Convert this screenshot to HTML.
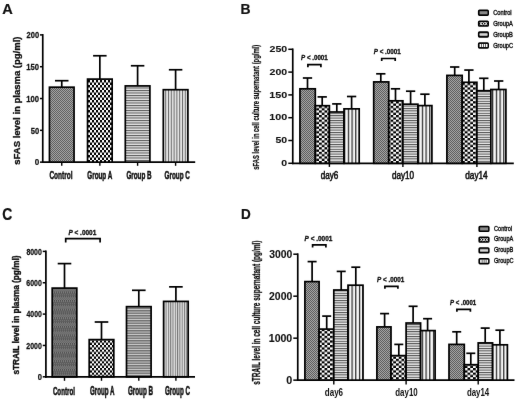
<!DOCTYPE html><html><head><meta charset="utf-8"><style>html,body{margin:0;padding:0;background:#fff;overflow:hidden;}svg{display:block;}</style></head><body>
<svg width="520" height="401" viewBox="0 0 520 401" font-family="'Liberation Sans', sans-serif">
<defs>
<pattern id="aG" width="2" height="2" patternUnits="userSpaceOnUse"><rect width="2" height="2" fill="#a8a8a8"/><rect width="1" height="1" fill="#5c5c5c"/><rect x="1" y="1" width="1" height="1" fill="#5c5c5c"/></pattern>
<pattern id="aC" width="4" height="5.0" patternUnits="userSpaceOnUse"><rect width="4" height="5.0" fill="#fff"/><rect width="2" height="2.5" fill="#000"/><rect x="2" y="2.5" width="2" height="2.5" fill="#000"/></pattern>
<pattern id="aH" width="4" height="2.5" patternUnits="userSpaceOnUse"><rect width="4" height="2.5" fill="#e2e2e2"/><rect width="4" height="1.0" fill="#555"/></pattern>
<pattern id="aV" width="2.8" height="4" patternUnits="userSpaceOnUse"><rect width="2.8" height="4" fill="#e4e4e4"/><rect width="1.0" height="4" fill="#6a6a6a"/></pattern>
<pattern id="bG" width="2" height="2" patternUnits="userSpaceOnUse"><rect width="2" height="2" fill="#a8a8a8"/><rect width="1" height="1" fill="#5a5a5a"/><rect x="1" y="1" width="1" height="1" fill="#5a5a5a"/></pattern>
<pattern id="bC" width="5.5" height="4.6" patternUnits="userSpaceOnUse"><rect width="5.5" height="4.6" fill="#fff"/><rect width="2.75" height="2.3" fill="#000"/><rect x="2.75" y="2.3" width="2.75" height="2.3" fill="#000"/></pattern>
<pattern id="bH" width="4" height="2.4" patternUnits="userSpaceOnUse"><rect width="4" height="2.4" fill="#ececec"/><rect width="4" height="1.0" fill="#4a4a4a"/></pattern>
<pattern id="bV" width="3.7" height="4" patternUnits="userSpaceOnUse"><rect width="3.7" height="4" fill="#f6f6f6"/><rect width="1.2" height="4" fill="#222"/></pattern>
<pattern id="cG" width="2" height="8.6" patternUnits="userSpaceOnUse"><rect width="2" height="8.6" fill="#4e4e4e"/><rect y="0" width="2" height="4.3" fill="#5c5c5c"/><rect x="0" y="4.3" width="1" height="1" fill="#929292"/><rect x="1" y="5.3" width="1" height="1" fill="#929292"/><rect x="0" y="6.3" width="1" height="1" fill="#929292"/><rect x="1" y="7.3" width="1" height="1" fill="#929292"/><rect x="1" y="0" width="1" height="1" fill="#7a7a7a"/><rect x="0" y="2" width="1" height="1" fill="#7a7a7a"/></pattern>
<pattern id="cC" width="4" height="4.6" patternUnits="userSpaceOnUse"><rect width="4" height="4.6" fill="#fff"/><rect width="2" height="2.3" fill="#000"/><rect x="2" y="2.3" width="2" height="2.3" fill="#000"/></pattern>
<pattern id="cH" width="4" height="2.5" patternUnits="userSpaceOnUse"><rect width="4" height="2.5" fill="#d0d0d0"/><rect width="4" height="1.5" fill="#707070"/></pattern>
<pattern id="cV" width="2.3" height="4" patternUnits="userSpaceOnUse"><rect width="2.3" height="4" fill="#e0e0e0"/><rect width="1.0" height="4" fill="#777"/></pattern>
<filter id="soft" x="0" y="0" width="520" height="401" filterUnits="userSpaceOnUse" color-interpolation-filters="sRGB"><feConvolveMatrix order="3" kernelMatrix="0.005 0.035 0.005 0.035 0.84 0.035 0.005 0.035 0.005" divisor="1" edgeMode="duplicate" preserveAlpha="true"/></filter>
</defs>
<g filter="url(#soft)"><rect width="520" height="401" fill="#fff"/>
<text transform="translate(2.13 13.55) scale(0.9943 1)" font-size="14.71" fill="#111" stroke="#111" stroke-width="0.20"><tspan font-weight="bold">A</tspan></text>
<text transform="translate(240.39 13.55) scale(0.9473 1)" font-size="14.71" fill="#111" stroke="#111" stroke-width="0.21"><tspan font-weight="bold">B</tspan></text>
<text transform="translate(2.14 219.60) scale(0.8922 1)" font-size="15.57" fill="#111" stroke="#111" stroke-width="0.22"><tspan font-weight="bold">C</tspan></text>
<text transform="translate(241.12 218.90) scale(0.9130 1)" font-size="14.78" fill="#111" stroke="#111" stroke-width="0.22"><tspan font-weight="bold">D</tspan></text>
<line x1="42.75" y1="34.05" x2="42.75" y2="163.00" stroke="#000" stroke-width="1.7" stroke-linecap="butt"/>
<line x1="41.90" y1="162.15" x2="195.20" y2="162.15" stroke="#000" stroke-width="1.7" stroke-linecap="butt"/>
<line x1="39.95" y1="162.15" x2="42.75" y2="162.15" stroke="#000" stroke-width="1.5" stroke-linecap="butt"/>
<text transform="translate(34.63 165.45) scale(0.8283 1)" font-size="9.79" fill="#111" stroke="#111" stroke-width="0.24"><tspan font-weight="bold">0</tspan></text>
<line x1="39.95" y1="130.34" x2="42.75" y2="130.34" stroke="#000" stroke-width="1.5" stroke-linecap="butt"/>
<text transform="translate(30.67 133.64) scale(0.7762 1)" font-size="9.79" fill="#111" stroke="#111" stroke-width="0.26"><tspan font-weight="bold">50</tspan></text>
<line x1="39.95" y1="98.53" x2="42.75" y2="98.53" stroke="#000" stroke-width="1.5" stroke-linecap="butt"/>
<text transform="translate(26.35 101.83) scale(0.7828 1)" font-size="9.79" fill="#111" stroke="#111" stroke-width="0.26"><tspan font-weight="bold">100</tspan></text>
<line x1="39.95" y1="66.71" x2="42.75" y2="66.71" stroke="#000" stroke-width="1.5" stroke-linecap="butt"/>
<text transform="translate(26.35 70.01) scale(0.7828 1)" font-size="9.79" fill="#111" stroke="#111" stroke-width="0.26"><tspan font-weight="bold">150</tspan></text>
<line x1="39.95" y1="34.90" x2="42.75" y2="34.90" stroke="#000" stroke-width="1.5" stroke-linecap="butt"/>
<text transform="translate(26.59 38.20) scale(0.7680 1)" font-size="9.79" fill="#111" stroke="#111" stroke-width="0.26"><tspan font-weight="bold">200</tspan></text>
<line x1="61.75" y1="87.20" x2="61.75" y2="80.70" stroke="#000" stroke-width="1.7" stroke-linecap="butt"/>
<line x1="55.00" y1="80.70" x2="68.50" y2="80.70" stroke="#000" stroke-width="1.7" stroke-linecap="butt"/>
<rect x="49.45" y="87.20" width="24.60" height="74.95" fill="url(#aG)" stroke="#000" stroke-width="1.7"/>
<line x1="61.75" y1="162.15" x2="61.75" y2="165.80" stroke="#000" stroke-width="1.4" stroke-linecap="butt"/>
<line x1="99.85" y1="79.10" x2="99.85" y2="55.75" stroke="#000" stroke-width="1.7" stroke-linecap="butt"/>
<line x1="93.10" y1="55.75" x2="106.60" y2="55.75" stroke="#000" stroke-width="1.7" stroke-linecap="butt"/>
<rect x="87.55" y="79.10" width="24.60" height="83.05" fill="url(#aC)" stroke="#000" stroke-width="1.7"/>
<line x1="99.85" y1="162.15" x2="99.85" y2="165.80" stroke="#000" stroke-width="1.4" stroke-linecap="butt"/>
<line x1="137.60" y1="85.90" x2="137.60" y2="65.75" stroke="#000" stroke-width="1.7" stroke-linecap="butt"/>
<line x1="130.85" y1="65.75" x2="144.35" y2="65.75" stroke="#000" stroke-width="1.7" stroke-linecap="butt"/>
<rect x="125.30" y="85.90" width="24.60" height="76.25" fill="url(#aH)" stroke="#000" stroke-width="1.7"/>
<line x1="137.60" y1="162.15" x2="137.60" y2="165.80" stroke="#000" stroke-width="1.4" stroke-linecap="butt"/>
<line x1="175.60" y1="89.70" x2="175.60" y2="69.75" stroke="#000" stroke-width="1.7" stroke-linecap="butt"/>
<line x1="168.85" y1="69.75" x2="182.35" y2="69.75" stroke="#000" stroke-width="1.7" stroke-linecap="butt"/>
<rect x="163.30" y="89.70" width="24.60" height="72.45" fill="url(#aV)" stroke="#000" stroke-width="1.7"/>
<line x1="175.60" y1="162.15" x2="175.60" y2="165.80" stroke="#000" stroke-width="1.4" stroke-linecap="butt"/>
<text transform="translate(49.39 178.70) scale(0.6119 1)" font-size="10.69" fill="#111" stroke="#111" stroke-width="0.49"><tspan font-weight="bold">Control</tspan></text>
<text transform="translate(87.30 178.70) scale(0.5705 1)" font-size="11.07" fill="#111" stroke="#111" stroke-width="0.53"><tspan font-weight="bold">Group A</tspan></text>
<text transform="translate(126.40 178.70) scale(0.5706 1)" font-size="11.07" fill="#111" stroke="#111" stroke-width="0.53"><tspan font-weight="bold">Group B</tspan></text>
<text transform="translate(164.49 178.70) scale(0.5769 1)" font-size="11.07" fill="#111" stroke="#111" stroke-width="0.52"><tspan font-weight="bold">Group C</tspan></text>
<text transform="translate(20.00 164.76) rotate(-90) scale(1.0912 1)" font-size="8.72" fill="#111" stroke="#111" stroke-width="0.32"><tspan font-weight="bold">sFAS level in plasma (pg/ml)</tspan></text>
<line x1="292.75" y1="48.45" x2="292.75" y2="164.15" stroke="#000" stroke-width="1.7" stroke-linecap="butt"/>
<line x1="291.90" y1="163.30" x2="513.80" y2="163.30" stroke="#000" stroke-width="1.7" stroke-linecap="butt"/>
<line x1="288.30" y1="163.30" x2="292.75" y2="163.30" stroke="#000" stroke-width="1.5" stroke-linecap="butt"/>
<text transform="translate(281.33 165.90) scale(1.2596 1)" font-size="8.36" fill="#111" stroke="#111" stroke-width="0.08"><tspan font-weight="bold">0</tspan></text>
<line x1="288.30" y1="140.50" x2="292.75" y2="140.50" stroke="#000" stroke-width="1.5" stroke-linecap="butt"/>
<text transform="translate(275.54 143.10) scale(1.2541 1)" font-size="8.36" fill="#111" stroke="#111" stroke-width="0.08"><tspan font-weight="bold">50</tspan></text>
<line x1="288.30" y1="117.70" x2="292.75" y2="117.70" stroke="#000" stroke-width="1.5" stroke-linecap="butt"/>
<text transform="translate(269.25 120.30) scale(1.2886 1)" font-size="8.36" fill="#111" stroke="#111" stroke-width="0.08"><tspan font-weight="bold">100</tspan></text>
<line x1="288.30" y1="94.90" x2="292.75" y2="94.90" stroke="#000" stroke-width="1.5" stroke-linecap="butt"/>
<text transform="translate(269.25 97.50) scale(1.2886 1)" font-size="8.36" fill="#111" stroke="#111" stroke-width="0.08"><tspan font-weight="bold">150</tspan></text>
<line x1="288.30" y1="72.10" x2="292.75" y2="72.10" stroke="#000" stroke-width="1.5" stroke-linecap="butt"/>
<text transform="translate(269.58 74.70) scale(1.2643 1)" font-size="8.36" fill="#111" stroke="#111" stroke-width="0.08"><tspan font-weight="bold">200</tspan></text>
<line x1="288.30" y1="49.30" x2="292.75" y2="49.30" stroke="#000" stroke-width="1.5" stroke-linecap="butt"/>
<text transform="translate(269.58 51.90) scale(1.2643 1)" font-size="8.36" fill="#111" stroke="#111" stroke-width="0.08"><tspan font-weight="bold">250</tspan></text>
<line x1="307.50" y1="88.80" x2="307.50" y2="78.00" stroke="#000" stroke-width="1.7" stroke-linecap="butt"/>
<line x1="302.85" y1="78.00" x2="312.15" y2="78.00" stroke="#000" stroke-width="1.7" stroke-linecap="butt"/>
<rect x="299.95" y="88.80" width="15.35" height="74.50" fill="url(#bG)" stroke="#000" stroke-width="1.7"/>
<line x1="322.20" y1="105.70" x2="322.20" y2="96.90" stroke="#000" stroke-width="1.7" stroke-linecap="butt"/>
<line x1="317.55" y1="96.90" x2="326.85" y2="96.90" stroke="#000" stroke-width="1.7" stroke-linecap="butt"/>
<rect x="315.30" y="105.70" width="14.10" height="57.60" fill="url(#bC)" stroke="#000" stroke-width="1.7"/>
<line x1="336.80" y1="112.00" x2="336.80" y2="103.90" stroke="#000" stroke-width="1.7" stroke-linecap="butt"/>
<line x1="332.15" y1="103.90" x2="341.45" y2="103.90" stroke="#000" stroke-width="1.7" stroke-linecap="butt"/>
<rect x="329.40" y="112.00" width="14.60" height="51.30" fill="url(#bH)" stroke="#000" stroke-width="1.7"/>
<line x1="351.60" y1="108.85" x2="351.60" y2="96.50" stroke="#000" stroke-width="1.7" stroke-linecap="butt"/>
<line x1="346.95" y1="96.50" x2="356.25" y2="96.50" stroke="#000" stroke-width="1.7" stroke-linecap="butt"/>
<rect x="344.00" y="108.85" width="15.20" height="54.45" fill="url(#bV)" stroke="#000" stroke-width="1.7"/>
<line x1="329.40" y1="163.30" x2="329.40" y2="166.90" stroke="#000" stroke-width="1.4" stroke-linecap="butt"/>
<line x1="380.80" y1="81.90" x2="380.80" y2="73.80" stroke="#000" stroke-width="1.7" stroke-linecap="butt"/>
<line x1="376.15" y1="73.80" x2="385.45" y2="73.80" stroke="#000" stroke-width="1.7" stroke-linecap="butt"/>
<rect x="373.70" y="81.90" width="15.05" height="81.40" fill="url(#bG)" stroke="#000" stroke-width="1.7"/>
<line x1="395.50" y1="100.80" x2="395.50" y2="88.80" stroke="#000" stroke-width="1.7" stroke-linecap="butt"/>
<line x1="390.85" y1="88.80" x2="400.15" y2="88.80" stroke="#000" stroke-width="1.7" stroke-linecap="butt"/>
<rect x="388.75" y="100.80" width="14.15" height="62.50" fill="url(#bC)" stroke="#000" stroke-width="1.7"/>
<line x1="410.60" y1="104.20" x2="410.60" y2="91.20" stroke="#000" stroke-width="1.7" stroke-linecap="butt"/>
<line x1="405.95" y1="91.20" x2="415.25" y2="91.20" stroke="#000" stroke-width="1.7" stroke-linecap="butt"/>
<rect x="402.90" y="104.20" width="15.00" height="59.10" fill="url(#bH)" stroke="#000" stroke-width="1.7"/>
<line x1="424.90" y1="105.60" x2="424.90" y2="94.20" stroke="#000" stroke-width="1.7" stroke-linecap="butt"/>
<line x1="420.25" y1="94.20" x2="429.55" y2="94.20" stroke="#000" stroke-width="1.7" stroke-linecap="butt"/>
<rect x="417.90" y="105.60" width="14.00" height="57.70" fill="url(#bV)" stroke="#000" stroke-width="1.7"/>
<line x1="402.90" y1="163.30" x2="402.90" y2="166.90" stroke="#000" stroke-width="1.4" stroke-linecap="butt"/>
<line x1="454.70" y1="75.40" x2="454.70" y2="67.00" stroke="#000" stroke-width="1.7" stroke-linecap="butt"/>
<line x1="450.05" y1="67.00" x2="459.35" y2="67.00" stroke="#000" stroke-width="1.7" stroke-linecap="butt"/>
<rect x="446.90" y="75.40" width="15.30" height="87.90" fill="url(#bG)" stroke="#000" stroke-width="1.7"/>
<line x1="468.90" y1="82.30" x2="468.90" y2="70.05" stroke="#000" stroke-width="1.7" stroke-linecap="butt"/>
<line x1="464.25" y1="70.05" x2="473.55" y2="70.05" stroke="#000" stroke-width="1.7" stroke-linecap="butt"/>
<rect x="462.20" y="82.30" width="14.70" height="81.00" fill="url(#bC)" stroke="#000" stroke-width="1.7"/>
<line x1="483.80" y1="90.70" x2="483.80" y2="78.30" stroke="#000" stroke-width="1.7" stroke-linecap="butt"/>
<line x1="479.15" y1="78.30" x2="488.45" y2="78.30" stroke="#000" stroke-width="1.7" stroke-linecap="butt"/>
<rect x="476.90" y="90.70" width="13.95" height="72.60" fill="url(#bH)" stroke="#000" stroke-width="1.7"/>
<line x1="498.70" y1="89.50" x2="498.70" y2="81.00" stroke="#000" stroke-width="1.7" stroke-linecap="butt"/>
<line x1="494.05" y1="81.00" x2="503.35" y2="81.00" stroke="#000" stroke-width="1.7" stroke-linecap="butt"/>
<rect x="490.85" y="89.50" width="15.05" height="73.80" fill="url(#bV)" stroke="#000" stroke-width="1.7"/>
<line x1="476.90" y1="163.30" x2="476.90" y2="166.90" stroke="#000" stroke-width="1.4" stroke-linecap="butt"/>
<text transform="translate(320.70 178.80) scale(0.7964 1)" font-size="10.17" fill="#111" stroke="#111" stroke-width="0.57"><tspan font-weight="normal">day6</tspan></text>
<text transform="translate(391.90 178.80) scale(0.7972 1)" font-size="10.17" fill="#111" stroke="#111" stroke-width="0.56"><tspan font-weight="normal">day10</tspan></text>
<text transform="translate(465.30 178.80) scale(0.8090 1)" font-size="10.17" fill="#111" stroke="#111" stroke-width="0.56"><tspan font-weight="normal">day14</tspan></text>
<path d="M307.90 67.20 V64.60 H320.90 V67.20" fill="none" stroke="#000" stroke-width="1.7"/>
<text transform="translate(301.03 59.60) scale(0.9254 1)" font-size="6.71" fill="#111" stroke="#111" stroke-width="0.32"><tspan font-weight="bold" font-style="italic">P</tspan><tspan font-weight="bold"> &lt; .0001</tspan></text>
<path d="M381.70 61.00 V58.50 H395.20 V61.00" fill="none" stroke="#000" stroke-width="1.7"/>
<text transform="translate(373.82 53.70) scale(0.9324 1)" font-size="6.71" fill="#111" stroke="#111" stroke-width="0.32"><tspan font-weight="bold" font-style="italic">P</tspan><tspan font-weight="bold"> &lt; .0001</tspan></text>
<text transform="translate(259.00 169.63) rotate(-90) scale(0.6038 1)" font-size="9.69" fill="#111" stroke="#111" stroke-width="0.25"><tspan font-weight="bold">sFAS level in cell culture supernatant (pg/ml)</tspan></text>
<rect x="478.70" y="10.35" width="9.50" height="4.80" rx="0.8" fill="#000" stroke="#000" stroke-width="1.6"/>
<rect x="479.60" y="11.20" width="7.90" height="3.10" fill="#8a8a8a"/>
<text transform="translate(493.17 14.70) scale(0.8947 1)" font-size="6.40" fill="#111" stroke="#111" stroke-width="0.36"><tspan font-weight="normal">Control</tspan></text>
<rect x="478.70" y="21.20" width="9.50" height="4.80" rx="0.8" fill="#000" stroke="#000" stroke-width="1.6"/>
<path d="M479.90 22.05 L481.93 25.15 M479.90 25.15 L481.93 22.05 M482.53 22.05 L484.57 25.15 M482.53 25.15 L484.57 22.05 M485.17 22.05 L487.20 25.15 M485.17 25.15 L487.20 22.05 " stroke="#fff" stroke-width="0.9" fill="none"/>
<text transform="translate(493.17 25.60) scale(0.8634 1)" font-size="6.63" fill="#111" stroke="#111" stroke-width="0.37"><tspan font-weight="normal">GroupA</tspan></text>
<rect x="478.70" y="32.10" width="9.50" height="4.80" rx="0.8" fill="#000" stroke="#000" stroke-width="1.6"/>
<rect x="479.60" y="32.95" width="7.90" height="3.10" fill="#aaa"/>
<rect x="479.60" y="34.15" width="7.90" height="0.7" fill="#e8e8e8"/>
<text transform="translate(493.17 36.70) scale(0.8628 1)" font-size="6.63" fill="#111" stroke="#111" stroke-width="0.37"><tspan font-weight="normal">GroupB</tspan></text>
<rect x="478.70" y="43.10" width="9.50" height="4.80" rx="0.8" fill="#000" stroke="#000" stroke-width="1.6"/>
<rect x="479.60" y="43.95" width="7.90" height="3.10" fill="#fff"/>
<rect x="481.22" y="43.95" width="0.7" height="3.10" fill="#222"/>
<rect x="483.20" y="43.95" width="0.7" height="3.10" fill="#222"/>
<rect x="485.17" y="43.95" width="0.7" height="3.10" fill="#222"/>
<text transform="translate(493.17 47.80) scale(0.8618 1)" font-size="6.63" fill="#111" stroke="#111" stroke-width="0.37"><tspan font-weight="normal">GroupC</tspan></text>
<line x1="45.90" y1="250.55" x2="45.90" y2="377.65" stroke="#000" stroke-width="1.7" stroke-linecap="butt"/>
<line x1="45.05" y1="376.80" x2="195.00" y2="376.80" stroke="#000" stroke-width="1.7" stroke-linecap="butt"/>
<line x1="42.75" y1="376.80" x2="45.90" y2="376.80" stroke="#000" stroke-width="1.5" stroke-linecap="butt"/>
<text transform="translate(37.70 379.90) scale(0.7918 1)" font-size="9.57" fill="#111" stroke="#111" stroke-width="0.25"><tspan font-weight="bold">0</tspan></text>
<line x1="42.75" y1="345.45" x2="45.90" y2="345.45" stroke="#000" stroke-width="1.5" stroke-linecap="butt"/>
<text transform="translate(26.36 348.55) scale(0.7289 1)" font-size="9.57" fill="#111" stroke="#111" stroke-width="0.27"><tspan font-weight="bold">2000</tspan></text>
<line x1="42.75" y1="314.10" x2="45.90" y2="314.10" stroke="#000" stroke-width="1.5" stroke-linecap="butt"/>
<text transform="translate(26.50 317.20) scale(0.7222 1)" font-size="9.57" fill="#111" stroke="#111" stroke-width="0.28"><tspan font-weight="bold">4000</tspan></text>
<line x1="42.75" y1="282.75" x2="45.90" y2="282.75" stroke="#000" stroke-width="1.5" stroke-linecap="butt"/>
<text transform="translate(26.36 285.85) scale(0.7289 1)" font-size="9.57" fill="#111" stroke="#111" stroke-width="0.27"><tspan font-weight="bold">6000</tspan></text>
<line x1="42.75" y1="251.40" x2="45.90" y2="251.40" stroke="#000" stroke-width="1.5" stroke-linecap="butt"/>
<text transform="translate(26.39 254.50) scale(0.7272 1)" font-size="9.57" fill="#111" stroke="#111" stroke-width="0.28"><tspan font-weight="bold">8000</tspan></text>
<line x1="64.50" y1="288.10" x2="64.50" y2="263.60" stroke="#000" stroke-width="1.7" stroke-linecap="butt"/>
<line x1="57.70" y1="263.60" x2="71.30" y2="263.60" stroke="#000" stroke-width="1.7" stroke-linecap="butt"/>
<rect x="52.20" y="288.10" width="24.60" height="88.70" fill="url(#cG)" stroke="#000" stroke-width="1.7"/>
<line x1="64.50" y1="376.80" x2="64.50" y2="380.80" stroke="#000" stroke-width="1.4" stroke-linecap="butt"/>
<line x1="101.50" y1="339.60" x2="101.50" y2="322.00" stroke="#000" stroke-width="1.7" stroke-linecap="butt"/>
<line x1="94.70" y1="322.00" x2="108.30" y2="322.00" stroke="#000" stroke-width="1.7" stroke-linecap="butt"/>
<rect x="89.20" y="339.60" width="24.60" height="37.20" fill="url(#cC)" stroke="#000" stroke-width="1.7"/>
<line x1="101.50" y1="376.80" x2="101.50" y2="380.80" stroke="#000" stroke-width="1.4" stroke-linecap="butt"/>
<line x1="138.80" y1="306.65" x2="138.80" y2="290.30" stroke="#000" stroke-width="1.7" stroke-linecap="butt"/>
<line x1="132.00" y1="290.30" x2="145.60" y2="290.30" stroke="#000" stroke-width="1.7" stroke-linecap="butt"/>
<rect x="126.50" y="306.65" width="24.60" height="70.15" fill="url(#cH)" stroke="#000" stroke-width="1.7"/>
<line x1="138.80" y1="376.80" x2="138.80" y2="380.80" stroke="#000" stroke-width="1.4" stroke-linecap="butt"/>
<line x1="175.90" y1="301.40" x2="175.90" y2="286.85" stroke="#000" stroke-width="1.7" stroke-linecap="butt"/>
<line x1="169.10" y1="286.85" x2="182.70" y2="286.85" stroke="#000" stroke-width="1.7" stroke-linecap="butt"/>
<rect x="163.60" y="301.40" width="24.60" height="75.40" fill="url(#cV)" stroke="#000" stroke-width="1.7"/>
<line x1="175.90" y1="376.80" x2="175.90" y2="380.80" stroke="#000" stroke-width="1.4" stroke-linecap="butt"/>
<text transform="translate(52.90 394.50) scale(0.5376 1)" font-size="11.52" fill="#111" stroke="#111" stroke-width="0.56"><tspan font-weight="bold">Control</tspan></text>
<text transform="translate(89.90 394.50) scale(0.5230 1)" font-size="11.93" fill="#111" stroke="#111" stroke-width="0.57"><tspan font-weight="bold">Group A</tspan></text>
<text transform="translate(127.90 394.50) scale(0.5296 1)" font-size="11.93" fill="#111" stroke="#111" stroke-width="0.57"><tspan font-weight="bold">Group B</tspan></text>
<text transform="translate(164.90 394.50) scale(0.5269 1)" font-size="11.93" fill="#111" stroke="#111" stroke-width="0.57"><tspan font-weight="bold">Group C</tspan></text>
<path d="M65.70 242.60 V238.60 H100.10 V242.60" fill="none" stroke="#000" stroke-width="1.7"/>
<text transform="translate(68.42 234.60) scale(0.9638 1)" font-size="6.71" fill="#111" stroke="#111" stroke-width="0.31"><tspan font-weight="bold" font-style="italic">P</tspan><tspan font-weight="bold"> &lt; .0001</tspan></text>
<text transform="translate(19.30 374.51) rotate(-90) scale(0.9266 1)" font-size="8.88" fill="#111" stroke="#111" stroke-width="0.38"><tspan font-weight="bold">sTRAIL level in plasma (pg/ml)</tspan></text>
<line x1="297.75" y1="253.35" x2="297.75" y2="381.00" stroke="#000" stroke-width="1.7" stroke-linecap="butt"/>
<line x1="296.90" y1="380.15" x2="514.50" y2="380.15" stroke="#000" stroke-width="1.7" stroke-linecap="butt"/>
<line x1="293.30" y1="380.15" x2="297.75" y2="380.15" stroke="#000" stroke-width="1.5" stroke-linecap="butt"/>
<text transform="translate(286.32 383.75) scale(1.0226 1)" font-size="10.50" fill="#111" stroke="#111" stroke-width="0.10"><tspan font-weight="bold">0</tspan></text>
<line x1="293.30" y1="338.17" x2="297.75" y2="338.17" stroke="#000" stroke-width="1.5" stroke-linecap="butt"/>
<text transform="translate(268.76 341.77) scale(1.0063 1)" font-size="10.50" fill="#111" stroke="#111" stroke-width="0.10"><tspan font-weight="bold">1000</tspan></text>
<line x1="293.30" y1="296.18" x2="297.75" y2="296.18" stroke="#000" stroke-width="1.5" stroke-linecap="butt"/>
<text transform="translate(269.09 299.78) scale(0.9922 1)" font-size="10.50" fill="#111" stroke="#111" stroke-width="0.10"><tspan font-weight="bold">2000</tspan></text>
<line x1="293.30" y1="254.20" x2="297.75" y2="254.20" stroke="#000" stroke-width="1.5" stroke-linecap="butt"/>
<text transform="translate(269.19 257.80) scale(0.9877 1)" font-size="10.50" fill="#111" stroke="#111" stroke-width="0.10"><tspan font-weight="bold">3000</tspan></text>
<line x1="312.10" y1="281.60" x2="312.10" y2="261.60" stroke="#000" stroke-width="1.7" stroke-linecap="butt"/>
<line x1="307.60" y1="261.60" x2="316.60" y2="261.60" stroke="#000" stroke-width="1.7" stroke-linecap="butt"/>
<rect x="304.90" y="281.60" width="14.20" height="98.55" fill="url(#bG)" stroke="#000" stroke-width="1.7"/>
<line x1="326.70" y1="329.10" x2="326.70" y2="316.10" stroke="#000" stroke-width="1.7" stroke-linecap="butt"/>
<line x1="322.20" y1="316.10" x2="331.20" y2="316.10" stroke="#000" stroke-width="1.7" stroke-linecap="butt"/>
<rect x="319.10" y="329.10" width="14.70" height="51.05" fill="url(#bC)" stroke="#000" stroke-width="1.7"/>
<line x1="341.20" y1="290.00" x2="341.20" y2="271.40" stroke="#000" stroke-width="1.7" stroke-linecap="butt"/>
<line x1="336.70" y1="271.40" x2="345.70" y2="271.40" stroke="#000" stroke-width="1.7" stroke-linecap="butt"/>
<rect x="333.80" y="290.00" width="14.20" height="90.15" fill="url(#bH)" stroke="#000" stroke-width="1.7"/>
<line x1="355.80" y1="285.20" x2="355.80" y2="267.20" stroke="#000" stroke-width="1.7" stroke-linecap="butt"/>
<line x1="351.30" y1="267.20" x2="360.30" y2="267.20" stroke="#000" stroke-width="1.7" stroke-linecap="butt"/>
<rect x="348.00" y="285.20" width="15.00" height="94.95" fill="url(#bV)" stroke="#000" stroke-width="1.7"/>
<line x1="333.80" y1="380.15" x2="333.80" y2="384.50" stroke="#000" stroke-width="1.4" stroke-linecap="butt"/>
<line x1="384.60" y1="326.90" x2="384.60" y2="313.60" stroke="#000" stroke-width="1.7" stroke-linecap="butt"/>
<line x1="380.10" y1="313.60" x2="389.10" y2="313.60" stroke="#000" stroke-width="1.7" stroke-linecap="butt"/>
<rect x="376.90" y="326.90" width="14.10" height="53.25" fill="url(#bG)" stroke="#000" stroke-width="1.7"/>
<line x1="398.80" y1="355.60" x2="398.80" y2="344.40" stroke="#000" stroke-width="1.7" stroke-linecap="butt"/>
<line x1="394.30" y1="344.40" x2="403.30" y2="344.40" stroke="#000" stroke-width="1.7" stroke-linecap="butt"/>
<rect x="391.00" y="355.60" width="15.10" height="24.55" fill="url(#bC)" stroke="#000" stroke-width="1.7"/>
<line x1="413.10" y1="323.00" x2="413.10" y2="306.30" stroke="#000" stroke-width="1.7" stroke-linecap="butt"/>
<line x1="408.60" y1="306.30" x2="417.60" y2="306.30" stroke="#000" stroke-width="1.7" stroke-linecap="butt"/>
<rect x="406.10" y="323.00" width="14.50" height="57.15" fill="url(#bH)" stroke="#000" stroke-width="1.7"/>
<line x1="427.60" y1="330.60" x2="427.60" y2="318.70" stroke="#000" stroke-width="1.7" stroke-linecap="butt"/>
<line x1="423.10" y1="318.70" x2="432.10" y2="318.70" stroke="#000" stroke-width="1.7" stroke-linecap="butt"/>
<rect x="420.60" y="330.60" width="14.50" height="49.55" fill="url(#bV)" stroke="#000" stroke-width="1.7"/>
<line x1="406.10" y1="380.15" x2="406.10" y2="384.50" stroke="#000" stroke-width="1.4" stroke-linecap="butt"/>
<line x1="456.70" y1="344.40" x2="456.70" y2="331.80" stroke="#000" stroke-width="1.7" stroke-linecap="butt"/>
<line x1="452.20" y1="331.80" x2="461.20" y2="331.80" stroke="#000" stroke-width="1.7" stroke-linecap="butt"/>
<rect x="449.00" y="344.40" width="15.30" height="35.75" fill="url(#bG)" stroke="#000" stroke-width="1.7"/>
<line x1="470.80" y1="364.70" x2="470.80" y2="353.30" stroke="#000" stroke-width="1.7" stroke-linecap="butt"/>
<line x1="466.30" y1="353.30" x2="475.30" y2="353.30" stroke="#000" stroke-width="1.7" stroke-linecap="butt"/>
<rect x="464.30" y="364.70" width="13.90" height="15.45" fill="url(#bC)" stroke="#000" stroke-width="1.7"/>
<line x1="485.20" y1="342.90" x2="485.20" y2="328.10" stroke="#000" stroke-width="1.7" stroke-linecap="butt"/>
<line x1="480.70" y1="328.10" x2="489.70" y2="328.10" stroke="#000" stroke-width="1.7" stroke-linecap="butt"/>
<rect x="478.20" y="342.90" width="14.40" height="37.25" fill="url(#bH)" stroke="#000" stroke-width="1.7"/>
<line x1="499.90" y1="344.80" x2="499.90" y2="330.20" stroke="#000" stroke-width="1.7" stroke-linecap="butt"/>
<line x1="495.40" y1="330.20" x2="504.40" y2="330.20" stroke="#000" stroke-width="1.7" stroke-linecap="butt"/>
<rect x="492.60" y="344.80" width="14.80" height="35.35" fill="url(#bV)" stroke="#000" stroke-width="1.7"/>
<line x1="478.20" y1="380.15" x2="478.20" y2="384.50" stroke="#000" stroke-width="1.4" stroke-linecap="butt"/>
<text transform="translate(324.78 395.50) scale(0.7864 1)" font-size="10.21" fill="#111" stroke="#111" stroke-width="0.00"><tspan font-weight="bold">day6</tspan></text>
<text transform="translate(395.28 395.50) scale(0.7752 1)" font-size="10.21" fill="#111" stroke="#111" stroke-width="0.00"><tspan font-weight="bold">day10</tspan></text>
<text transform="translate(466.88 395.50) scale(0.7725 1)" font-size="10.21" fill="#111" stroke="#111" stroke-width="0.00"><tspan font-weight="bold">day14</tspan></text>
<path d="M312.60 247.40 V244.80 H325.90 V247.40" fill="none" stroke="#000" stroke-width="1.7"/>
<text transform="translate(304.52 240.90) scale(0.9151 1)" font-size="7.07" fill="#111" stroke="#111" stroke-width="0.33"><tspan font-weight="bold" font-style="italic">P</tspan><tspan font-weight="bold"> &lt; .0001</tspan></text>
<path d="M384.90 288.80 V286.40 H397.90 V288.80" fill="none" stroke="#000" stroke-width="1.7"/>
<text transform="translate(377.02 281.70) scale(0.8743 1)" font-size="7.21" fill="#111" stroke="#111" stroke-width="0.34"><tspan font-weight="bold" font-style="italic">P</tspan><tspan font-weight="bold"> &lt; .0001</tspan></text>
<path d="M456.90 311.70 V309.40 H470.40 V311.70" fill="none" stroke="#000" stroke-width="1.7"/>
<text transform="translate(450.08 304.80) scale(0.9223 1)" font-size="6.57" fill="#111" stroke="#111" stroke-width="0.33"><tspan font-weight="bold" font-style="italic">P</tspan><tspan font-weight="bold"> &lt; .0001</tspan></text>
<text transform="translate(260.00 384.73) rotate(-90) scale(0.6375 1)" font-size="10.14" fill="#111" stroke="#111" stroke-width="0.31"><tspan font-weight="bold">sTRAIL level in cell culture supernatant (pg/ml)</tspan></text>
<rect x="479.20" y="226.50" width="9.60" height="4.80" rx="0.8" fill="#000" stroke="#000" stroke-width="1.6"/>
<rect x="480.10" y="227.35" width="8.00" height="3.10" fill="#8a8a8a"/>
<text transform="translate(493.98 230.60) scale(0.8796 1)" font-size="6.40" fill="#111" stroke="#111" stroke-width="0.36"><tspan font-weight="normal">Control</tspan></text>
<rect x="479.20" y="237.25" width="9.60" height="4.80" rx="0.8" fill="#000" stroke="#000" stroke-width="1.6"/>
<path d="M480.40 238.10 L482.47 241.20 M480.40 241.20 L482.47 238.10 M483.07 238.10 L485.13 241.20 M483.07 241.20 L485.13 238.10 M485.73 238.10 L487.80 241.20 M485.73 241.20 L487.80 238.10 " stroke="#fff" stroke-width="0.9" fill="none"/>
<text transform="translate(493.98 241.40) scale(0.8478 1)" font-size="6.63" fill="#111" stroke="#111" stroke-width="0.38"><tspan font-weight="normal">GroupA</tspan></text>
<rect x="479.20" y="247.95" width="9.60" height="4.80" rx="0.8" fill="#000" stroke="#000" stroke-width="1.6"/>
<rect x="480.10" y="248.80" width="8.00" height="3.10" fill="#aaa"/>
<rect x="480.10" y="250.00" width="8.00" height="0.7" fill="#e8e8e8"/>
<text transform="translate(493.98 252.30) scale(0.8470 1)" font-size="6.63" fill="#111" stroke="#111" stroke-width="0.38"><tspan font-weight="normal">GroupB</tspan></text>
<rect x="479.20" y="258.80" width="9.60" height="4.80" rx="0.8" fill="#000" stroke="#000" stroke-width="1.6"/>
<rect x="480.10" y="259.65" width="8.00" height="3.10" fill="#fff"/>
<rect x="481.75" y="259.65" width="0.7" height="3.10" fill="#222"/>
<rect x="483.75" y="259.65" width="0.7" height="3.10" fill="#222"/>
<rect x="485.75" y="259.65" width="0.7" height="3.10" fill="#222"/>
<text transform="translate(493.98 263.10) scale(0.8485 1)" font-size="6.63" fill="#111" stroke="#111" stroke-width="0.38"><tspan font-weight="normal">GroupC</tspan></text>
</g></svg></body></html>
